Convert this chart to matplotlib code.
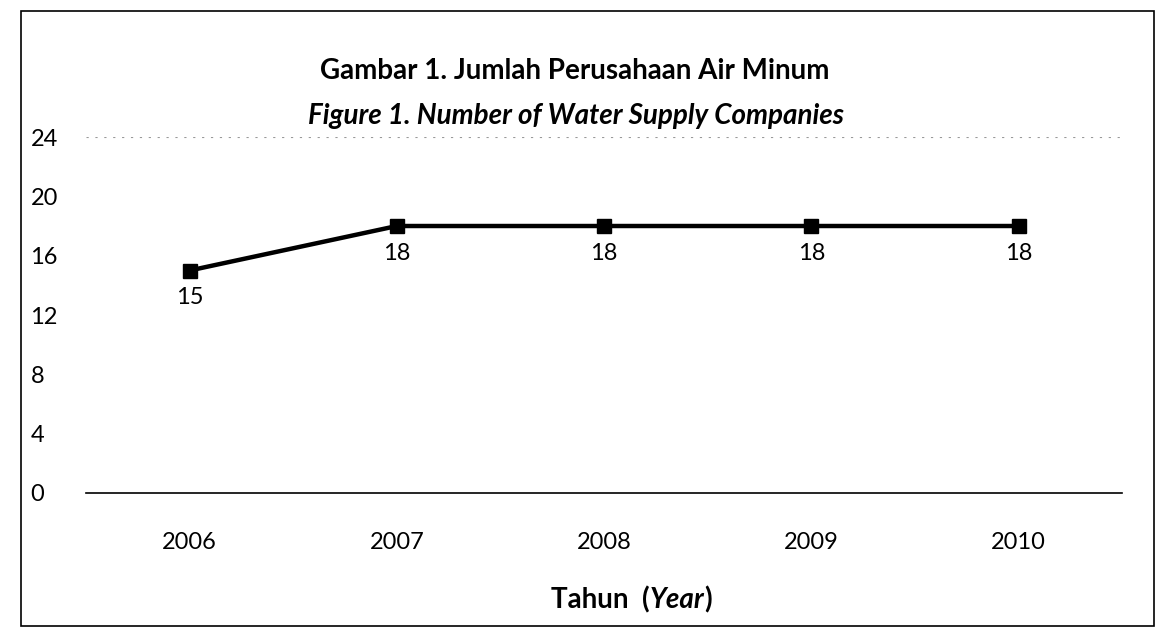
import matplotlib
matplotlib.use("Agg")
import matplotlib.pyplot as plt
from matplotlib.patches import Rectangle
from matplotlib.offsetbox import TextArea, HPacker, AnchoredOffsetbox

years = ["2006", "2007", "2008", "2009", "2010"]
companies = [15, 18, 18, 18, 18]
y_ticks = [0, 4, 8, 12, 16, 20, 24]

title_id = "Gambar 1. Jumlah Perusahaan Air Minum"
title_en = "Figure 1. Number of Water Supply Companies"

plt.rcParams['font.family'] = ['Lato', 'DejaVu Sans']

fig = plt.figure(figsize=(11.59, 6.34), dpi=100)
ax = fig.add_axes([0.0742, 0.2224, 0.894, 0.5615])

x = list(range(len(years)))
ax.plot(x, companies, color='black', linewidth=3.2, marker='s',
        markersize=10, markerfacecolor='black', markeredgecolor='black')

for xi, v in zip(x, companies):
    ax.annotate(str(v), (xi, v), xytext=(0, -12), textcoords='offset points',
                ha='center', va='top', fontsize=17)

ax.set_xlim(-0.5, len(years) - 0.5)
ax.set_ylim(0, 24)
ax.set_yticks(y_ticks)
ax.set_xticks(x)
ax.set_xticklabels(years)
ax.tick_params(axis='both', length=0, labelsize=17)
ax.tick_params(axis='x', pad=28)
ax.tick_params(axis='y', pad=40)
for lbl in ax.get_yticklabels():
    lbl.set_horizontalalignment('left')

for s in ['top', 'right', 'left']:
    ax.spines[s].set_visible(False)
ax.spines['bottom'].set_linewidth(1.2)
ax.axhline(24, color='0.6', linewidth=0.8, linestyle=(0, (2, 6)))

fig.text(0.496, 0.888, title_id, ha='center', va='center', fontsize=20, fontweight='bold')
fig.text(0.497, 0.817, title_en, ha='center', va='center', fontsize=20,
         fontweight='bold', style='italic')

# x axis title with italic part
parts = HPacker(children=[
    TextArea("Tahun  (", textprops=dict(fontsize=20, fontweight='bold')),
    TextArea("Year", textprops=dict(fontsize=20, fontweight='bold', style='italic')),
    TextArea(")", textprops=dict(fontsize=20, fontweight='bold')),
], align='baseline', pad=0, sep=0)
box = AnchoredOffsetbox(loc='center', child=parts, frameon=False,
                        bbox_to_anchor=(0.545, 0.054), bbox_transform=fig.transFigure,
                        borderpad=0, pad=0)
fig.add_artist(box)

# outer frame
fig.add_artist(Rectangle((0.018, 0.013), 0.978, 0.97, transform=fig.transFigure,
                         fill=False, edgecolor='black', linewidth=1.2))

fig.savefig("out.png", dpi=100)
